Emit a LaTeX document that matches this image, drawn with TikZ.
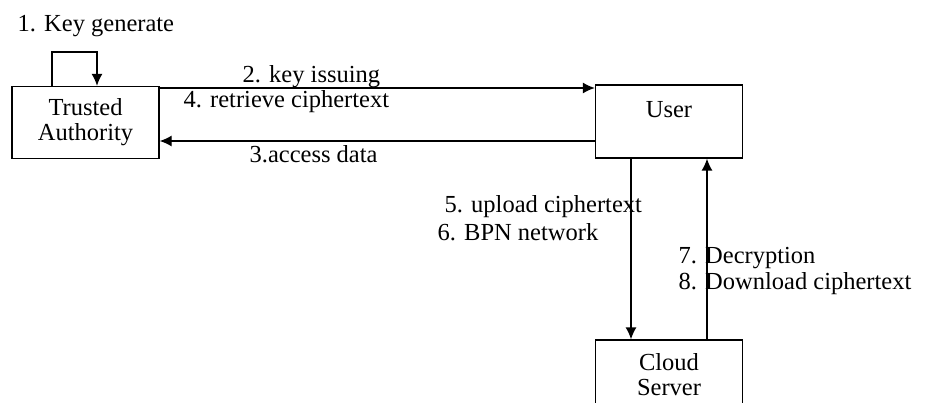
\documentclass[tikz,border=0pt]{standalone}
\usepackage{fontspec}
\setmainfont{Liberation Serif}
\usetikzlibrary{arrows.meta}
\tikzset{
  entity/.style={draw, minimum width=147pt, align=center, inner sep=0pt},
  msg/.style={anchor=west, inner sep=0pt, yshift=-2pt},
}
\begin{document}
\begin{tikzpicture}[x=1pt,y=-1pt,>={Latex[length=12pt,width=11pt]},line width=1.3pt,font=\fontsize{24.5}{25}\selectfont]
\useasboundingbox (0,0) rectangle (925,403);
% parties
\node[entity, minimum height=72pt] (ta) at (85.5,122.5) {Trusted\\Authority};
\node[entity, minimum height=73pt] (user) at (669,121.5) {User\\~};
\node[entity, minimum height=70pt] (cloud) at (669,375) {Cloud\\Server};
% messages
\draw[->] (ta.north -| 52,0) -- (52,52) -- (97,52) -- (ta.north -| 97,0);
\draw[->] (ta.east |- 0,88) -- (user.west |- 0,88);
\draw[->] (user.west |- 0,141) -- (ta.east |- 0,141);
\draw[->] (user.south -| 631,0) -- (cloud.north -| 631,0);
\draw[->] (cloud.north -| 707,0) -- (user.south -| 707,0);
\node[msg] (keygen) at (17,24) {1. Key generate};
\node[msg] (issue) at (242,75) {2. key issuing};
\node[msg] (retrieve) at (183,100) {4. retrieve ciphertext};
\node[msg] (access) at (249,152) {3.access data};
\node[msg] (upload) at (444,205) {5. upload ciphertext};
\node[msg] (bpn) at (437,230) {6. BPN network};
\node[msg] (decrypt) at (678,256) {7. Decryption};
\node[msg] (download) at (678,282) {8. Download ciphertext};
\end{tikzpicture}
\end{document}
